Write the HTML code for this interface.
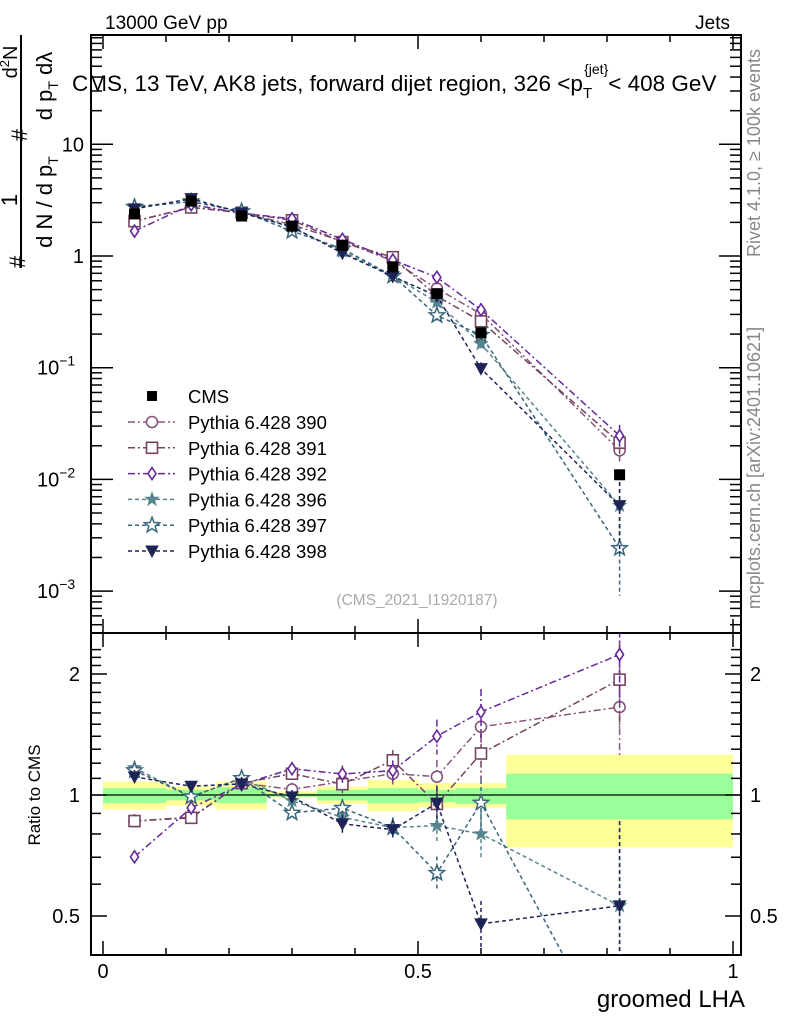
<!DOCTYPE html>
<html><head><meta charset="utf-8"><style>
html,body{margin:0;padding:0;background:#fff;overflow:hidden;width:786px;height:1024px;}
svg{display:block;font-family:"Liberation Sans",sans-serif;}
</style></head><body>
<svg id="chart" width="786" height="1024" viewBox="0 0 786 1024" xmlns="http://www.w3.org/2000/svg">
<text x="105" y="29" font-size="19">13000 GeV pp</text>
<text x="730" y="29" font-size="19" text-anchor="end">Jets</text>
<text x="72" y="91" font-size="22.5">CMS, 13 TeV, AK8 jets, forward dijet region, 326 &lt;p<tspan font-size="15" dy="7">T</tspan><tspan font-size="14" dx="-8" dy="-24">{jet}</tspan><tspan dy="17">&lt; 408 GeV</tspan></text>
<text transform="translate(760,153) rotate(-90)" font-size="18" fill="#888" text-anchor="middle">Rivet 4.1.0, ≥ 100k events</text>
<text transform="translate(760,468) rotate(-90)" font-size="18" fill="#888" text-anchor="middle">mcplots.cern.ch [arXiv:2401.10621]</text>
<g font-size="22">
<line x1="21" y1="35" x2="21" y2="268" stroke="#000" stroke-width="2"/>
<text transform="translate(25,268) rotate(-90)">#</text>
<text transform="translate(17,200) rotate(-90)" text-anchor="middle">1</text>
<text transform="translate(27,135) rotate(-90)" text-anchor="middle">#</text>
<text transform="translate(17,62) rotate(-90)" text-anchor="middle" font-size="20">d<tspan font-size="13" dy="-8">2</tspan><tspan dy="8">N</tspan></text>
<text transform="translate(52,202) rotate(-90)" text-anchor="middle">d N / d p<tspan font-size="14" dy="6">T</tspan></text>
<text transform="translate(52,86) rotate(-90)" text-anchor="middle">d p<tspan font-size="14" dy="6">T</tspan><tspan dy="-6"> dλ</tspan></text>
</g>
<text transform="translate(40,795) rotate(-90)" font-size="17" text-anchor="middle">Ratio to CMS</text>
<text x="745" y="1007" font-size="24" text-anchor="end">groomed LHA</text>
<text x="417" y="605" font-size="15.5" fill="#aaa" text-anchor="middle">(CMS_2021_I1920187)</text>
<g id="bands"></g><g id="axes"></g><g id="series"></g><g id="legend"></g>
</svg>
<script>
const binEdges=[0,0.1,0.18,0.26,0.34,0.42,0.5,0.56,0.64,1.0];
const xCenters=[0.05,0.14,0.22,0.30,0.38,0.46,0.53,0.60,0.82];
const cmsValues=[2.38,3.1,2.28,1.85,1.25,0.80,0.46,0.205,0.011];
const yellowLo=[0.92,0.94,0.92,0.985,0.95,0.91,0.93,0.93,0.74];
const yellowHi=[1.08,1.05,1.08,1.02,1.05,1.09,1.07,1.07,1.26];
const greenLo=[0.955,0.97,0.955,0.99,0.97,0.955,0.96,0.95,0.87];
const greenHi=[1.04,1.03,1.045,1.01,1.03,1.04,1.03,1.04,1.13];
const mc390=[2.05,2.73,2.44,1.91,1.35,0.904,0.511,0.303,0.0182];
const mc391=[2.05,2.72,2.44,2.09,1.33,0.976,0.437,0.260,0.0213];
const mc392=[1.67,2.88,2.42,2.15,1.41,0.92,0.644,0.330,0.0246];
const mc396=[2.78,3.07,2.51,1.79,1.10,0.664,0.386,0.164,0.00583];
const mc397=[2.74,3.07,2.51,1.67,1.16,0.664,0.294,0.196,0.00242];
const mc398=[2.64,3.26,2.43,1.83,1.06,0.656,0.439,0.098,0.00583];
const relErr=[0.04,0.03,0.04,0.04,0.05,0.06,0.1,0.14,0.25];
const seriesNames=["Pythia 6.428 390","Pythia 6.428 391","Pythia 6.428 392","Pythia 6.428 396","Pythia 6.428 397","Pythia 6.428 398"];
const xTicks=[0,0.5,1];
const xTickLabels=["0","0.5","1"];
const ratioTicks=[0.5,1,2];
const ratioTickLabels=["0.5","1","2"];

const NS="http://www.w3.org/2000/svg";
const L=91,R=741,T=35,B=633,RB=955;
const X=v=>103+v*630;
const Y=v=>256-Math.log10(v)*111.7;
const RY=r=>795-Math.log2(r)*121;
function mk(tag,attrs,parent){const e=document.createElementNS(NS,tag);for(const k in attrs)e.setAttribute(k,attrs[k]);parent.appendChild(e);return e;}
const bands=document.getElementById('bands'),axes=document.getElementById('axes'),ser=document.getElementById('series'),leg=document.getElementById('legend');
const clipR=mk('clipPath',{id:'cr'},ser);mk('rect',{x:L,y:B,width:R-L,height:RB-B},clipR);
const clipM=mk('clipPath',{id:'cm'},ser);mk('rect',{x:L,y:T,width:R-L,height:B-T},clipM);

for(let i=0;i<xCenters.length;i++){
  const x1=X(binEdges[i]),x2=X(binEdges[i+1]);
  const y=mk('rect',{x:x1,y:RY(yellowHi[i]),width:x2-x1,height:RY(yellowLo[i])-RY(yellowHi[i]),fill:'#ffff99'},bands);
  
  
  const g=mk('rect',{x:x1,y:RY(greenHi[i]),width:x2-x1,height:RY(greenLo[i])-RY(greenHi[i]),fill:'#99ff99'},bands);
  
  
}
mk('line',{x1:L,x2:R,y1:RY(1),y2:RY(1),stroke:'#000','stroke-width':1.3},bands);

const f1=mk('rect',{x:L,y:T,width:R-L,height:B-T,fill:'none',stroke:'#000','stroke-width':2},axes);


const f2=mk('rect',{x:L,y:B,width:R-L,height:RB-B,fill:'none',stroke:'#000','stroke-width':2},axes);


for(let k=0;k<=10;k++){
  const v=k/10;const len=(k%5==0)?14:7;
  mk('line',{x1:X(v),x2:X(v),y1:RB,y2:RB-len,stroke:'#000','stroke-width':1.5},axes);
  mk('line',{x1:X(v),x2:X(v),y1:B,y2:B-len,stroke:'#000','stroke-width':1.5},axes);
  mk('line',{x1:X(v),x2:X(v),y1:B,y2:B+len,stroke:'#000','stroke-width':1.5},axes);
  mk('line',{x1:X(v),x2:X(v),y1:T,y2:T+len,stroke:'#000','stroke-width':1.5},axes);
}
xTicks.forEach((v,i)=>{const t=mk('text',{x:X(v),y:978,'font-size':20,'text-anchor':'middle'},axes);t.textContent=xTickLabels[i];

});
for(let d=-4;d<=1;d++){for(let m=1;m<10;m++){const v=m*Math.pow(10,d);const y=Y(v);if(y<T||y>B)continue;const len=m==1?22:11;
 mk('line',{x1:L,x2:L+len,y1:y,y2:y,stroke:'#000','stroke-width':1.5},axes);mk('line',{x1:R,x2:R-len,y1:y,y2:y,stroke:'#000','stroke-width':1.5},axes);}}
const mainLbl=[[10,"10"],[1,"1"],[0.1,"10<tspan dy='-9' font-size='14'>−1</tspan>"],[0.01,"10<tspan dy='-9' font-size='14'>−2</tspan>"],[0.001,"10<tspan dy='-9' font-size='14'>−3</tspan>"]];
mainLbl.forEach(([v,s])=>{const t=mk('text',{x:v>=1?84:37,y:Y(v)+7,'font-size':20,'text-anchor':v>=1?'end':'start'},axes);t.innerHTML=s;

});
for(let k=5;k<=23;k++){const r=k/10;const y=RY(r);if(y<B||y>RB)continue;const big=(k==5||k==10||k==20);const len=big?16:10;
 mk('line',{x1:L,x2:L+len,y1:y,y2:y,stroke:'#000','stroke-width':1.5},axes);mk('line',{x1:R,x2:R-len,y1:y,y2:y,stroke:'#000','stroke-width':1.5},axes);}
ratioTicks.forEach((v,i)=>{const t=mk('text',{x:80,y:RY(v)+7,'font-size':20,'text-anchor':'end'},axes);t.textContent=ratioTickLabels[i];


const t2=mk('text',{x:750,y:RY(v)+7,'font-size':20},axes);t2.textContent=ratioTickLabels[i];

});

const colors=['#86557a','#744460','#64289a','#56858f','#3a6679','#1f2456'];
const dashes=['7,3,2,3','7,3,2,3','7,3,2,3','4,3','4,3','4,3'];
const markers=['circle','square','diamond','star','bigstar','tri'];
const allMC=[mc390,mc391,mc392,mc396,mc397,mc398];
function marker(type,x,y,c,g){
  if(type=='circle')return mk('circle',{cx:x,cy:y,r:5.5,fill:'#fff',stroke:c,'stroke-width':1.6},g);
  if(type=='square')return mk('rect',{x:x-5.5,y:y-5.5,width:11,height:11,fill:'#fff',stroke:c,'stroke-width':1.6},g);
  if(type=='diamond')return mk('polygon',{points:`${x},${y-6} ${x+4},${y} ${x},${y+6} ${x-4},${y}`,fill:'#fff',stroke:c,'stroke-width':1.6},g);
  if(type=='star'||type=='bigstar'){const ro=type=='star'?6:8,ri=ro*0.42;let p=[];for(let k=0;k<10;k++){const a=-Math.PI/2+k*Math.PI/5;const r=k%2?ri:ro;p.push((x+r*Math.cos(a)).toFixed(1)+','+(y+r*Math.sin(a)).toFixed(1));}
    return mk('polygon',{points:p.join(' '),fill:type=='star'?c:'#fff',stroke:c,'stroke-width':1.5},g);}
  if(type=='tri')return mk('polygon',{points:`${x-6},${y-5} ${x+6},${y-5} ${x},${y+6}`,fill:c,stroke:c},g);
}
allMC.forEach((vals,s)=>{
  const c=colors[s];
  const gm=mk('g',{'clip-path':'url(#cm)'},ser);
  
  
  const gr=mk('g',{'clip-path':'url(#cr)'},ser);
  
  
  mk('polyline',{points:vals.map((v,i)=>X(xCenters[i])+','+Y(v)).join(' '),fill:'none',stroke:c,'stroke-width':1.5,'stroke-dasharray':dashes[s]},gm);
  mk('polyline',{points:vals.map((v,i)=>X(xCenters[i])+','+RY(v/cmsValues[i])).join(' '),fill:'none',stroke:c,'stroke-width':1.5,'stroke-dasharray':dashes[s]},gr);
  vals.forEach((v,i)=>{
    const x=X(xCenters[i]);const e=relErr[i]*(s>=3&&i==8?2.5:1);
    mk('line',{x1:x,x2:x,y1:Y(v*(1+e)),y2:Y(Math.max(v*(1-e),1e-5)),stroke:c,'stroke-width':1.5,'stroke-dasharray':dashes[s]},gm);
    const r=v/cmsValues[i];
    mk('line',{x1:x,x2:x,y1:RY(r*(1+e)),y2:RY(Math.max(r*(1-e),0.01)),stroke:c,'stroke-width':1.5,'stroke-dasharray':dashes[s]},gr);
    const m1=marker(markers[s],x,Y(v),c,gm);
    
    
    const m2=marker(markers[s],x,RY(r),c,gr);
    
    
  });
});
cmsValues.forEach((v,i)=>{const x=X(xCenters[i]);const p=mk('rect',{x:x-5.5,y:Y(v)-5.5,width:11,height:11,fill:'#000'},ser);

});
const lt=mk('text',{x:188,y:403,'font-size':18.5},leg);lt.textContent='CMS';


mk('rect',{x:147,y:391,width:10,height:10,fill:'#000'},leg);
seriesNames.forEach((n,s)=>{const y=422+s*25.8;
  mk('line',{x1:128,x2:175,y1:y,y2:y,stroke:colors[s],'stroke-width':1.5,'stroke-dasharray':dashes[s]},leg);
  marker(markers[s],152,y,colors[s],leg);
  const t=mk('text',{x:188,y:y+7,'font-size':18.5},leg);t.textContent=n;
  
  });
</script>
</body></html>
